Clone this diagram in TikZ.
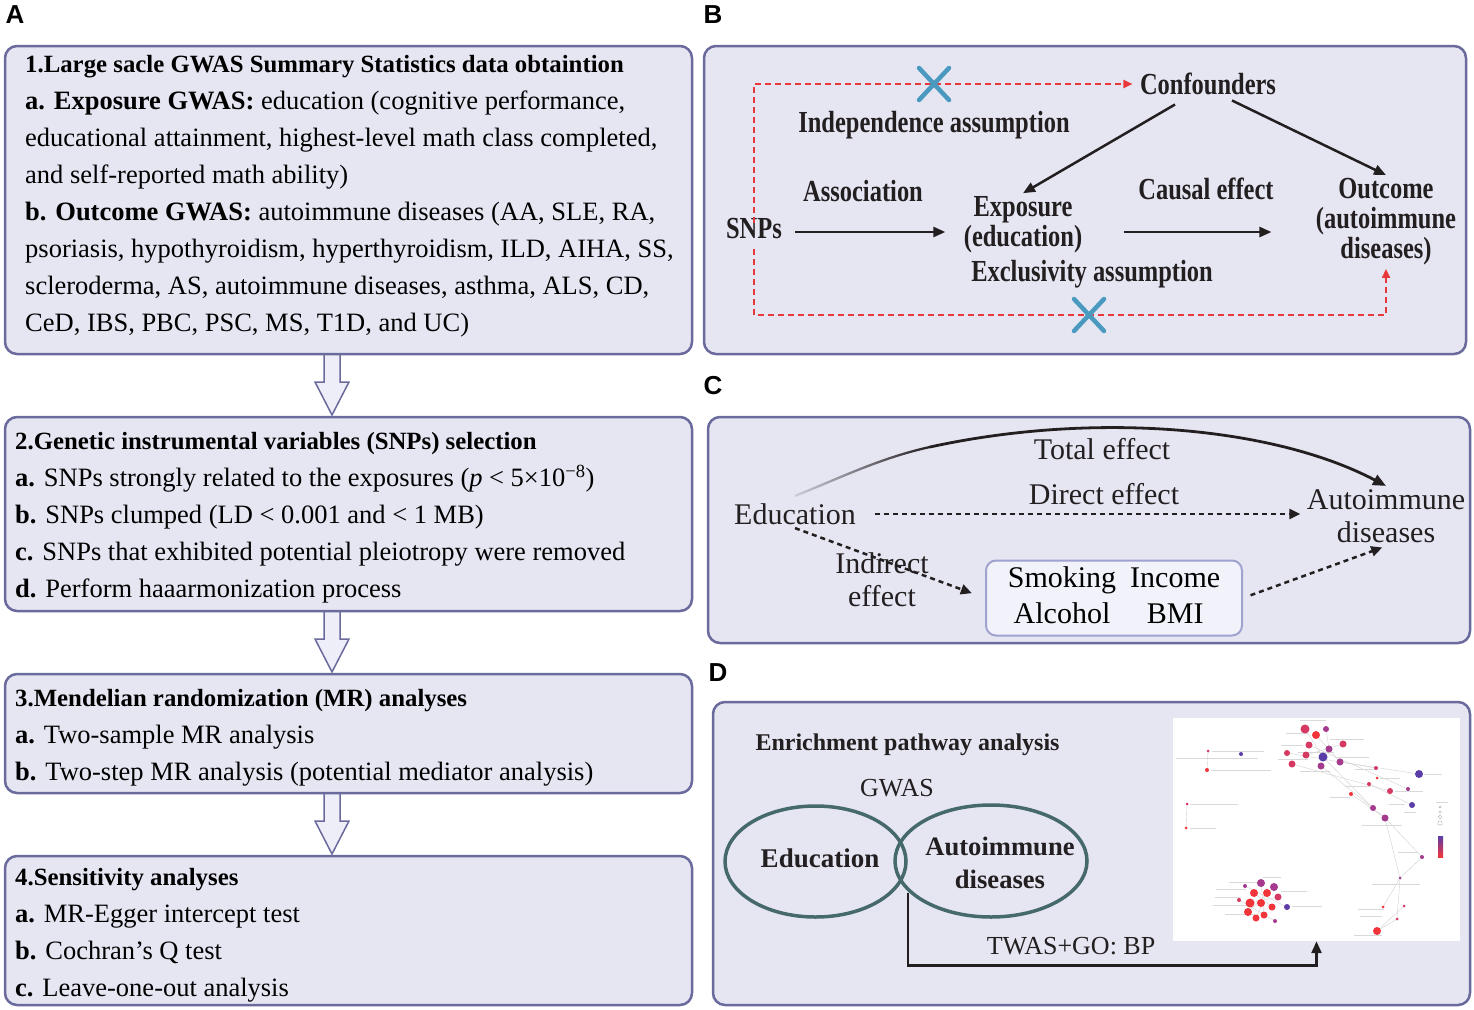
\documentclass[tikz,border=0pt]{standalone}
\usepackage{fontspec}
\setmainfont{Liberation Serif}
\newfontfamily\condfont[FakeStretch=0.8]{Liberation Serif}
\newfontfamily\labelfont{Liberation Sans}
\usetikzlibrary{arrows.meta,shapes.geometric,fadings}

\definecolor{panelfill}{HTML}{E6E6F3}
\definecolor{panelline}{HTML}{6A6A9C}
\definecolor{arrowfill}{HTML}{EEEEF8}
\definecolor{reddash}{HTML}{E8383C}
\definecolor{crossblue}{HTML}{4A9AC0}
\definecolor{medfill}{HTML}{F1F2FA}
\definecolor{medline}{HTML}{A0A2CF}
\definecolor{vennline}{HTML}{46696C}
\definecolor{ink}{HTML}{231F20}
\definecolor{netR}{HTML}{F2353B}
\definecolor{netM}{HTML}{D63A62}
\definecolor{netP}{HTML}{A53B8E}
\definecolor{netV}{HTML}{5B3DA8}

\newcommand\headfont{\fontsize{24.8}{37}\selectfont\bfseries}

\tikzfading[name=fadeleft, left color=transparent!88, right color=transparent!0]

\tikzset{
  panel/.style={draw=panelline, fill=panelfill, line width=2.5pt, rounded corners=12pt, inner sep=0pt, outer sep=0pt},
  plabel/.style={font=\labelfont\bfseries\fontsize{26}{26}\selectfont},
  steptext/.style={align=left, inner sep=0pt, anchor=north west, font=\fontsize{26.5}{37}\selectfont},
  hollowarrow/.style={draw=panelline, fill=arrowfill, line width=1.5pt, line join=miter},
  btext/.style={font=\condfont\bfseries\fontsize{30.6}{30}\selectfont, align=center, text=ink},
  blk/.style={draw=ink, line width=2.5pt, -{Triangle[length=12pt,width=10pt]}},
  redpath/.style={draw=reddash, line width=2pt, dash pattern=on 6pt off 4pt, -{Triangle[length=9pt,width=8pt]}},
  cross/.style={draw=crossblue, line width=4.5pt, line cap=round},
  ctext/.style={font=\fontsize{30}{33}\selectfont, align=center, text=ink},
  dasharrow/.style={draw=ink, line width=2.5pt, dash pattern=on 5pt off 4pt, -{Triangle[length=11pt,width=10pt]}},
  totalarrow/.style={draw=ink, line width=2.8pt, -{Triangle[length=13pt,width=11pt]}},
  medbox/.style={draw=medline, fill=medfill, line width=2pt, rounded corners=10pt, minimum width=256pt, minimum height=75pt, inner sep=0pt,
    font=\fontsize{30}{36}\selectfont},
  vennset/.style={ellipse, draw=vennline, line width=3.5pt, inner sep=0pt},
  vennlabel/.style={align=center, text=ink, font=\bfseries\fontsize{27}{33}\selectfont},
  dtext/.style={font=\fontsize{26}{30}\selectfont, text=ink},
  netedge/.style={draw=gray!35, line width=0.4pt},
  netlabel/.style={draw=gray!30, line width=0.9pt}
}

\begin{document}
\begin{tikzpicture}[x=1pt,y=-1pt]
\useasboundingbox (0,0) rectangle (1474,1009);

% panel letters
\node[plabel] (labA) at (15,15) {A};
\node[plabel] (labB) at (713,15) {B};
\node[plabel] (labC) at (713,386) {C};
\node[plabel] (labD) at (718,673) {D};

% hollow arrows between the steps
\foreach \ya/\yb in {354/415,611/672,793/854}
  \draw[hollowarrow] (324,\ya) -- (324,{\yb-33}) -- (315,{\yb-33}) -- (332,\yb) -- (349,{\yb-33}) -- (340,{\yb-33}) -- (340,\ya);

% panel A
\node[panel, minimum width=687pt, minimum height=308pt] (boxA1) at (348.5,200) {};
\node[panel, minimum width=687pt, minimum height=194pt] (boxA2) at (348.5,514) {};
\node[panel, minimum width=687pt, minimum height=119pt] (boxA3) at (348.5,733.5) {};
\node[panel, minimum width=687pt, minimum height=149pt] (boxA4) at (348.5,930.5) {};

\node[steptext] (txtA1) at (25,55) {{\headfont 1.Large sacle GWAS Summary Statistics data obtaintion}\\
\textbf{a. Exposure GWAS:} education (cognitive performance,\\
educational attainment, highest-level math class completed,\\
and self-reported math ability)\\
\textbf{b. Outcome GWAS:} autoimmune diseases (AA, SLE, RA,\\
psoriasis, hypothyroidism, hyperthyroidism, ILD, AIHA, SS,\\
scleroderma, AS, autoimmune diseases, asthma, ALS, CD,\\
CeD, IBS, PBC, PSC, MS, T1D, and UC)};
\node[steptext] (txtA2) at (15,432) {{\headfont 2.Genetic instrumental variables (SNPs) selection}\\
\textbf{a.} SNPs strongly related to the exposures ({\itshape p} < 5×10\textsuperscript{−8})\\
\textbf{b.} SNPs clumped (LD < 0.001 and < 1 MB)\\
\textbf{c.} SNPs that exhibited potential pleiotropy were removed\\
\textbf{d.} Perform haaarmonization process};
\node[steptext] (txtA3) at (15,689) {{\headfont 3.Mendelian randomization (MR) analyses}\\
\textbf{a.} Two-sample MR analysis\\
\textbf{b.} Two-step MR analysis (potential mediator analysis)};
\node[steptext] (txtA4) at (15,868) {{\headfont 4.Sensitivity analyses}\\
\textbf{a.} MR-Egger intercept test\\
\textbf{b.} Cochran's Q test\\
\textbf{c.} Leave-one-out analysis};

% panel B
\node[panel, minimum width=762pt, minimum height=308pt] (boxB) at (1085,200) {};
\node[btext] (snps) at (754,229) {SNPs};
\node[btext] (expo) at (1023,225) {Exposure\\(education)};
\node[btext] (outc) at (1386,222) {Outcome\\(autoimmune\\diseases)};
\node[btext] (conf) at (1208,84) {Confounders};
\node[btext] (assoc) at (863,191) {Association};
\node[btext] (causal) at (1206,189) {Causal effect};
\node[btext] (indep) at (934,125) {Independence assumption};
\node[btext] (excl) at (1092,274) {Exclusivity assumption};
\coordinate (crossTop) at (934,84);
\coordinate (crossBot) at (1089,315);

\draw[redpath, shorten <=-8pt, shorten >=4pt] (snps.north) |- (conf.west);
\draw[redpath, shorten <=6pt] (snps.south) |- (crossBot) -| (outc.south);
\foreach \c in {crossTop,crossBot}
  \draw[cross] ([shift={(-15,-16)}]\c) -- ([shift={(15,16)}]\c) ([shift={(-15,16)}]\c) -- ([shift={(15,-16)}]\c);

\draw[blk, shorten <=10pt, shorten >=15pt] (snps.east |- 0,232) -- (expo.west |- 0,232);
\draw[blk, shorten <=38pt, shorten >=41pt] (expo.east |- 0,232) -- (outc.west |- 0,232);
\draw[blk] ([shift={(-33,6)}]conf.south) -- (expo.north);
\draw[blk] ([shift={(24,2)}]conf.south) -- (outc.north);

% panel C
\node[panel, minimum width=762pt, minimum height=226pt] (boxC) at (1089,530) {};
\node[ctext] (edu) at (795,514) {Education};
\node[ctext] (auto) at (1386,516) {Autoimmune\\diseases};
\node[ctext] (total) at (1102,449) {Total effect};
\node[ctext] (direct) at (1104,494) {Direct effect};
\node[ctext] (indirect) at (882,580) {Indirect\\effect};
\node[medbox] (med) at (1114,598) {\begin{tabular}{@{}c@{\hspace{14pt}}c@{}}Smoking & Income\\ Alcohol & BMI\end{tabular}};
\coordinate (totmid) at (930,447);

\draw[draw=ink, line width=2.3pt, path fading=fadeleft] ([yshift=4pt]edu.north) .. controls (840,478) and (880,458) .. (totmid);
\draw[totalarrow] (totmid) .. controls (1090,412) and (1270,425) .. (auto.north);
\draw[dasharrow, shorten <=16pt, shorten >=3pt] (edu.east) -- (auto.west |- edu.east);
\draw[dasharrow, shorten >=14pt] (edu.south) -- (med.west);
\draw[dasharrow, shorten <=8pt, shorten >=4pt] (med.east) -- (auto.south);

% panel D
\node[panel, minimum width=757pt, minimum height=303pt] (boxD) at (1091.5,853.5) {};
\node[anchor=west, font=\bfseries\fontsize{24}{28}\selectfont, text=ink] (enrich) at (752,745) {Enrichment pathway analysis};
\node[dtext] (gwas) at (897,788) {GWAS};
\node[vennset, minimum width=181pt, minimum height=111pt] (eduset) at (815.5,861.5) {};
\node[vennset, minimum width=192pt, minimum height=112pt] (autoset) at (991,861) {};
\node[vennlabel] (edulbl) at (820,858) {Education};
\node[vennlabel, font=\bfseries\fontsize{26.6}{33}\selectfont] (autolbl) at (1000,863) {Autoimmune\\diseases};
\node[fill=white, inner sep=0pt, minimum width=287pt, minimum height=223pt] (netimg) at (1316.5,829.5) {};
\node[dtext] (twas) at (1071,946) {TWAS+GO: BP};
\draw[blk] ([yshift=-31pt]eduset.east) -- ++(0,73) -| (netimg.south);

% network picture
\foreach \xa/\ya/\xb/\yb in {1305/729/1323/757, 1316/735/1340/762, 1287/753/1376/768, 1323/757/1373/808,
    1340/762/1419/774, 1321/766/1385/818, 1369/784/1412/805, 1351/794/1385/818, 1385/818/1422/857,
    1422/857/1400/878, 1385/818/1400/878, 1400/878/1383/907, 1400/878/1397/919, 1397/919/1377/931,
    1404/906/1377/931, 1187/804/1186/828, 1208/751/1207/770, 1292/764/1390/791, 1309/745/1408/789,
    1306/755/1343/744, 1326/729/1329/749, 1261/883/1264/915, 1245/886/1287/907, 1254/893/1272/907,
    1250/903/1278/897, 1239/900/1275/921, 1274/887/1248/912, 1267/893/1256/918}
  \draw[netedge] (\xa,\ya) -- (\xb,\yb);
\foreach \x/\y/\l in {1300/720/26, 1286/733/22, 1330/739/34, 1281/745/22, 1298/752/36, 1278/759/30,
    1335/757/34, 1300/771/30, 1212/751/52, 1176/758/82, 1211/770/60, 1190/804/48, 1190/828/26,
    1355/769/22, 1380/778/20, 1345/786/26, 1330/797/20, 1395/791/28, 1424/774/18, 1389/804/16,
    1362/825/40, 1404/812/12, 1398/852/20, 1372/884/48, 1358/909/26, 1360/916/22, 1354/935/28,
    1229/882/34, 1216/889/30, 1215/897/26, 1213/905/34, 1225/914/30, 1263/877/18, 1281/891/26, 1292/906/30}
  \draw[netlabel] (\x,\y) -- ++(\l,0);
\foreach \x/\y/\r/\c in {1305/729/4.5/netM, 1326/729/3/netP, 1316/735/4/netR, 1343/744/3.5/netM,
    1309/745/3.5/netM, 1329/749/3.5/netP, 1323/757/4.5/netV, 1340/762/3.5/netP, 1306/755/3.5/netM,
    1287/753/3/netM, 1292/764/3.5/netM, 1321/766/3.5/netP, 1241/754/2/netV, 1208/751/1.5/netM,
    1207/770/2/netR, 1376/768/2/netM, 1419/774/4/netV, 1377/778/1.5/netR, 1369/784/2/netM,
    1390/791/3/netM, 1408/789/2/netP, 1351/794/2/netR, 1373/808/3/netP, 1412/805/3/netV,
    1385/818/3.5/netP, 1187/804/1.5/netM, 1186/828/1.5/netR, 1422/857/2/netP, 1400/878/1.5/netP,
    1383/907/1.5/netR, 1404/906/1.5/netM, 1397/919/1.5/netM, 1377/931/4/netR,
    1261/883/4/netP, 1245/886/2/netP, 1274/887/4/netP, 1254/893/4/netR, 1267/893/4/netR,
    1278/897/3.5/netM, 1239/900/2/netM, 1250/903/4.5/netR, 1261/903/4/netR, 1272/907/3.5/netR,
    1287/907/3/netV, 1248/912/4/netR, 1264/915/3.5/netR, 1256/918/3.5/netR, 1275/921/2/netP}
  \fill[\c] (\x,\y) circle (\r);
% legend
\draw[netlabel, line width=0.8pt] (1436,802) -- ++(12,0);
\foreach \y/\r in {807/1, 812/1.4, 817/1.8, 823/2.2}
  \draw[gray!60, line width=0.4pt] (1440,\y) circle (\r);
\shade[top color=netV, bottom color=netR] (1438,836) rectangle (1443,857);
\end{tikzpicture}
\end{document}
